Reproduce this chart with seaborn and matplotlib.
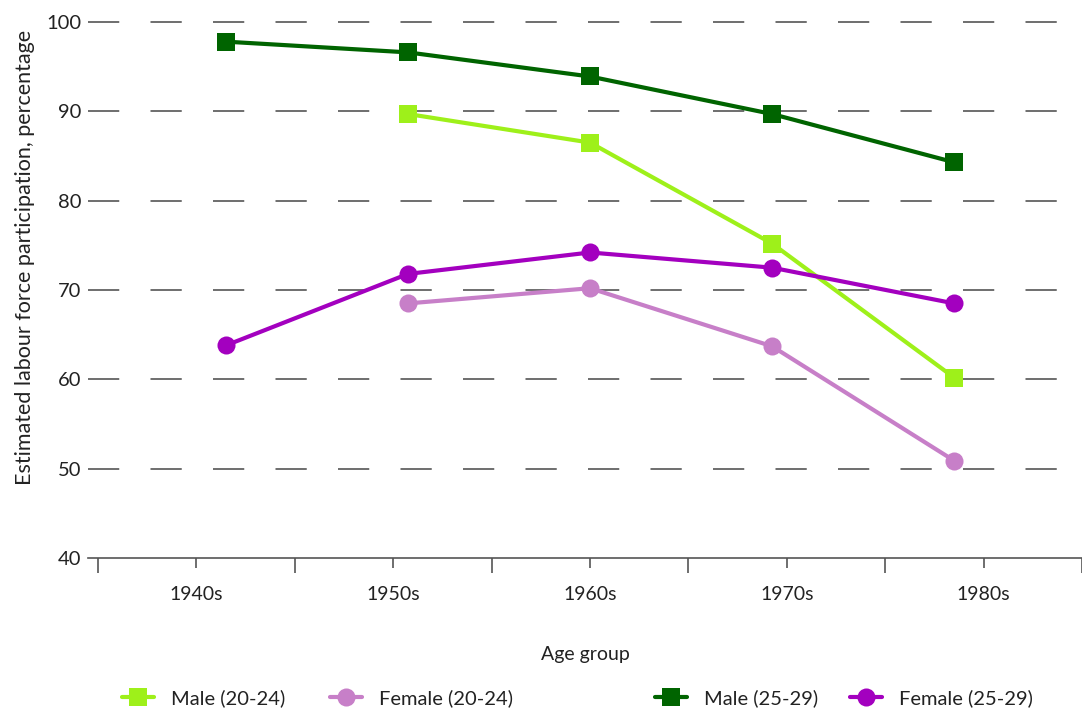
import numpy as np
import pandas as pd
import matplotlib
matplotlib.use("Agg")
import matplotlib.pyplot as plt
import seaborn as sns
from matplotlib.ticker import MultipleLocator, FixedLocator
from matplotlib.lines import Line2D

# data
decades = ["1940s", "1950s", "1960s", "1970s", "1980s"]
cohort_x = [1946.5, 1955.75, 1965.0, 1974.25, 1983.5]
male_20_24 = [np.nan, 89.7, 86.5, 75.2, 60.2]
female_20_24 = [np.nan, 68.5, 70.2, 63.7, 50.9]
male_25_29 = [97.8, 96.6, 93.9, 89.7, 84.3]
female_25_29 = [63.8, 71.8, 74.2, 72.5, 68.5]

series_names = ["Male (20-24)", "Female (20-24)", "Male (25-29)", "Female (25-29)"]
series_vals = [male_20_24, female_20_24, male_25_29, female_25_29]
colors = ["#9ef01a", "#c77fc8", "#006400", "#a300bf"]
markers = ["s", "o", "s", "o"]

sns.set_theme(style="white")
plt.rcParams["font.family"] = ["Lato", "DejaVu Sans"]
plt.rcParams["lines.scale_dashes"] = False

fig = plt.figure(figsize=(10.82, 7.11), dpi=100)
W, H = 1082, 711
ax = fig.add_axes([88 / W, (H - 558) / H, (W - 88) / W, (558 - 22) / H])

for name, vals, col, mk in zip(series_names, series_vals, colors, markers):
    df = pd.DataFrame({"x": cohort_x, "y": vals}).dropna()
    sns.lineplot(data=df, x="x", y="y", color=col, marker=mk, markersize=13,
                 markeredgewidth=0, linewidth=3, ax=ax, sort=False, legend=False)

ax.set_xlim(1939.49, 1990)
ax.set_ylim(40, 100)

# y axis
ax.yaxis.set_major_locator(MultipleLocator(10))
ax.tick_params(axis="y", length=0, pad=5, labelsize=14.5, labelcolor="#222222")
for v in range(50, 101, 10):
    ax.axhline(v, color="#555555", linewidth=1.2, linestyle=(0, (22.5, 22.5)),
               clip_on=False, zorder=0)

# x axis: long ticks at decade edges, short labelled ticks at centres
ax.xaxis.set_major_locator(FixedLocator([1940, 1950, 1960, 1970, 1980, 1990]))
ax.xaxis.set_major_formatter(plt.NullFormatter())
ax.set_xticks([1945, 1955, 1965, 1975, 1985], labels=decades, minor=True)
ax.tick_params(axis="x", which="major", length=11, width=1.2, color="#555555", bottom=True)
ax.tick_params(axis="x", which="minor", length=7, width=1.2, color="#555555", bottom=True,
               pad=13, labelsize=14, labelcolor="#222222")

sns.despine(ax=ax, left=True)
ax.spines["bottom"].set_color("#555555")
ax.spines["bottom"].set_linewidth(1.2)

ax.set_xlabel("Age group", fontsize=14, color="#222222", labelpad=31)
ax.set_ylabel("Estimated labour force participation, percentage", fontsize=15.5,
              color="#222222")
ax.yaxis.set_label_coords(-0.053, 0.5616)

# legend along the bottom
leg_x = [122, 330, 655, 850]
for name, col, mk, lx in zip(series_names, colors, markers, leg_x):
    h = Line2D([], [], color=col, marker=mk, markersize=13, markeredgewidth=0, linewidth=3)
    lg = fig.legend(handles=[h], labels=[name], loc="center left",
                    bbox_to_anchor=(lx / W, (H - 698) / H), frameon=False,
                    borderaxespad=0, borderpad=0, handlelength=1.6,
                    handletextpad=0.85, fontsize=14.5)
    for t in lg.get_texts():
        t.set_color("#222222")

fig.savefig("out.png", dpi=100)
